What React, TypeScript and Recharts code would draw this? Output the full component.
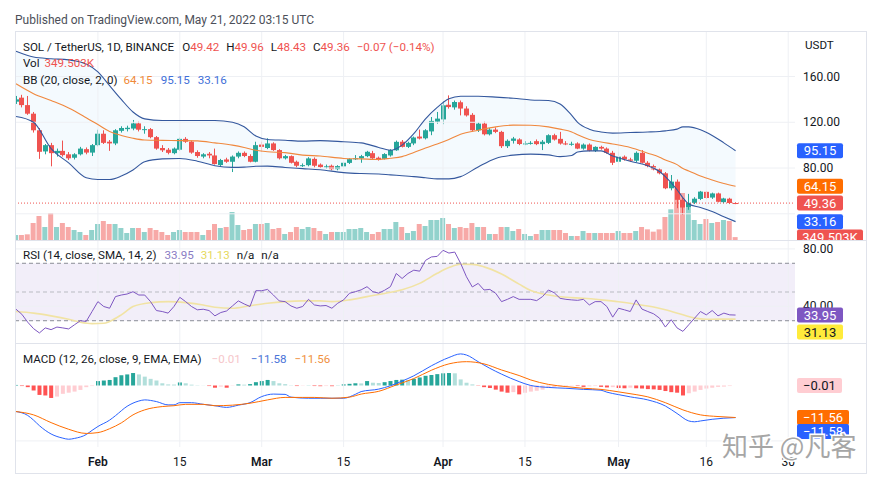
import React from 'react';
import { ComposedChart, Bar, Line, Area, XAxis, YAxis, ReferenceLine, ReferenceArea, Cell } from 'recharts';

// ---------------- data (day index 0 = 18 Jan 2022, daily candles) ----------------
const opens = [138,141.5,135,127.5,113,94.5,100,93,95,92, 89,92,96.5,93.5,100,110,103,101.5,112.5,114, 114.5,119,113.5,114,107,97.5,96,93,96,105.5, 103,94,90,92.5,91,82.6,87.5,85.5,90,93.3, 90.5,85.5,100.5,97.5,101.5,95.7,88.5,90.4,85.5,82, 82.5,88,83,80.8,82,79,81.5,84.5,88,88.5, 90.4,93,89,88,91,95.5,103,98.5,101.5,107.5, 106,112,120.5,122.5,135.3,133,137.5,132,126.5,113, 118.8,109.5,113.6,111.6,99.1,103.8,105,101,101.5,103.5, 100.9,102,108.7,105.5,101.5,101,101.5,97,100.5,95.1, 98.5,97,93.3,85.5,89.9,87.5,86.4,93.3,84.6,81.7, 78.8,75.4,62.3,68.1,52.2,45.5,49.6,53,59.2,54.2, 57.8,50.2,53.2,49.42];
const highs = [143,144,143,129,115,101,102,97,104,94, 93,98.5,98,101,113.5,113,104.5,114,116.5,117, 122,120.5,116.5,115,108,100,97.5,98,106.5,107, 104,95.5,93,94,97,88,89,91,94.5,94.5, 92,103,103,106,102.5,96.5,91.5,91,86.5,84, 89.5,89.3,84,83,83,82.5,85.5,88.5,91.3,91.5, 95,95,90,93,96.5,104,104.5,103,107.5,113.6, 114,124.6,129,138.5,143.5,139,139,134,128,120, 120.5,115,115.5,112.5,105,107.2,106,103.5,103.5,105, 104.5,109.5,110,111.6,103.5,103,102.5,101.5,101.5,99, 99.5,98,95,94.2,91,89,94.5,95.7,86,83, 80,76.5,73.9,70,54,57.4,54.5,60,60,58.5, 58.5,54,54,49.96];
const lows = [136,133,126.5,111,88,92,81.5,90,90,87, 87.5,91,92,90.5,99,101,95,100,111,112, 113,112,110,106,96,94,92,92,95,102, 92.5,89,88.5,88.5,83,81.5,84.5,76.5,88.5,89.5, 85,85,94,96.5,95,87.5,87.5,84,80.5,81, 81.5,80.5,80,79.5,78,78,80.5,83.5,87,84.6, 89.5,88,86.5,87.5,90,95,98,97.5,100,105, 105,108.7,118.8,118.3,131.9,131,126,125,112,111.5, 108.5,108.5,110.5,97.5,97.5,101.4,100,100,100.5,100, 95.7,101,104,100.5,100,99.5,96.5,96,94.5,94, 96,92.5,82.6,84,86.5,85.5,85,84,80.5,78, 74.5,61.5,60.5,44.9,39.1,43.5,48.5,52,53,53, 50,49.2,48.5,48.43];
const closes = [140,135,127.5,113,94.2,100,93,95,91.3,88.5, 92,97,93.5,100,110,102,101.5,113,115,115.2, 119,113.5,114,107,97,95.5,93.3,97,105.5,103, 93.5,90.5,92,91,83.5,87,85.5,90,93.3,90.5, 85.5,100,98.5,101.5,95.7,88.5,90.4,84.6,82,82.5, 88.4,82,80.8,81.5,79,81.7,84.6,87.8,88.5,90.4, 94.2,88.5,87,92.2,95.7,102.9,98.5,102,106.7,105.8, 113,121.2,123.2,134.8,133.3,137.7,132,126,113,118.8, 109.5,113.6,111.6,99.1,103.8,105.8,101,101.5,102,100.9, 103,108.7,104.9,101.4,100.9,101.2,97,100.5,95.1,98.5, 97,93.3,84.6,89.9,87.5,86.4,93.3,84.6,81.7,78.8, 75.4,62.3,68.1,52.2,45.5,49.6,53.2,59.4,53.8,57.8, 50.5,53.4,49.42,49.36];
// volume in thousands
const volumes = [600,600,680,2040,2880,1560,3240,1560,2040,1560, 1200,960,600,1200,1920,2280,1920,1920,1440,840, 1440,1440,960,1440,1200,960,600,960,1200,960, 960,960,600,1200,1920,1440,1560,3360,1800,1200, 1320,1920,1920,2040,1320,1440,720,960,1560,1320, 1560,1440,1080,720,960,960,960,1320,1320,1440, 960,720,960,1320,1320,2160,1560,840,1080,1920, 1680,2400,2400,2640,1920,1440,1560,1440,2040,1560, 1560,720,720,1560,1560,1080,1320,720,480,720, 1200,1200,1200,1200,840,480,480,1080,840,840, 840,840,840,1080,840,840,1080,1560,1280,1000, 1280,2760,3680,6200,5640,3840,2400,1920,2520,2040, 2160,2400,2280,349.503];

// Bollinger Bands (20, 2) read at sample days
const bbDays  = [0,3,6,9,12,14,16,18,20,22,25,28,31,34,37,39,41,43,46,49,52,56,59,62,64,66,68,70,72,74,76,79,82,85,88,91,93,95,96,98,100,102,105,108,110,111,113,114,115,117,119,121,123];
const bbUpper = [182,177,175.5,174.5,171,164,152,140,129,123,121.5,121.5,121.5,121.5,120,116,108,105,104.3,103.5,104,103,102,98,95.5,100,110,123,133,140.5,142.8,142.7,142,141,139.5,139,136,126,120,114,111.5,110.5,111,111.5,112,112.5,114,116,116,113.5,108.5,102,95.15];
const bbBasis = [153.6,145,139,132.5,124,118,112,108.5,106,104.5,104.2,104,103.7,102,100,98,95.5,94.2,93.5,91.3,90.5,88.4,88,87.5,88.5,90,93.5,97.5,101,105,109.5,113,116,117.5,117.4,116,114,111.5,109,105,102.8,101,98,93,89.5,87,83,79.5,77.5,73,69.5,66.5,64.15];
const bbLower = [125,120,97,84.5,71.5,70,70,73,78.3,85.5,88,88.4,86,82,80.6,80.8,81.5,81.7,80.5,79.5,78.5,76,75.2,74.8,74,73.3,72.5,71.5,70.5,70.5,72.5,81,88.4,91.3,92.2,91.5,90,91,94,95,95,90.5,86,82,77,72.5,61,54,48.5,45.5,42,37.5,33.16];

// RSI (14) daily and its SMA (14) at sample days
const rsiValues = [38,34.5,29,24.5,21.5,25,23.8,25.6,25,24.3, 27.2,30,29.5,36.4,43.3,39.9,38.7,46.8,47.9,48.6, 50.2,47.9,47.9,43.3,37.1,36.4,35.3,39.9,46.3,43.3, 39.9,37.6,38,37.1,33.4,35.7,36.8,40.3,43.8,41.7, 39.9,50.9,50.9,51.8,47.9,43.8,43.3,40.3,38.7,39.9, 44.9,41,40.3,40.6,38.7,42.2,44.5,49.1,50.2,51.5, 53.7,50.2,49.2,51.2,53.7,62.9,59.4,62.9,65.2,64.5, 72,74.4,74.8,79,77.1,77.8,70,60.6,53.5,56, 51.4,51.8,49.1,43.3,44.9,46.8,44.9,44.9,44.9,44, 46.8,51.4,49.5,45.6,44.9,44.5,44.2,44.9,41,43.3, 43.3,39.9,32.5,38.7,37.6,36.4,44.5,38.1,36.4,34.8, 31.8,25.6,30.7,25,22.6,27.2,31.8,36.4,34.1,37.1, 33.4,35.3,34.1,33.95];
const rsiMaDays = [0,3,6,9,11,13,15,16,18,20,23,26,29,32,34,37,40,43,46,49,52,54,57,60,63,66,69,72,74,76,78,80,83,86,88,91,94,97,100,103,106,109,111,114,116,118,120,123];
const rsiMaValues = [36.4,35.3,33.4,31,29,28,28.2,29.5,34.1,39.9,42.6,43.3,42.6,41,39.4,38.7,40.5,42.2,43.3,43.8,43.8,43.3,44.5,46.8,49,51.5,56,63,67,69.3,69.2,67.5,62.5,55.5,51,47.9,46.3,45.6,44.5,43.2,41.5,39.5,37.6,34.1,31.8,31,31.1,31.13];

// MACD (12, 26, 9)
const macdDays = [0,2,3,4,6,8,9,10,12,13,14,16,17,19,21,22,24,26,27,28,30,32,34,36,38,40,42,44,46,47,50,52,56,58,59,62,64,66,68,71,74,76,77,79,81,83,86,88,91,94,97,100,101,103,105,108,111,113,115,116,117,119,121,123];
const macdValues = [-9.4,-10.8,-12.5,-14.5,-17.5,-19,-19.4,-19.1,-17.7,-16.2,-14.8,-12.5,-10.9,-7.5,-5.6,-5.2,-5.8,-7,-7,-6.2,-6.2,-6.8,-7.3,-7.9,-7.1,-6.2,-4,-3.1,-3.2,-4.2,-4.6,-4.6,-4.6,-3.2,-2.2,-1.3,-0.1,1.6,3.5,7.1,10.1,11.4,11,8.6,6.2,4.1,1.4,0,-0.7,-1,-1.4,-1.7,-2.4,-3.3,-4.1,-5.2,-7.4,-10.1,-12.8,-13.1,-12.8,-12.2,-11.8,-11.58];
const signalDays = [0,3,6,9,12,14,16,18,20,22,25,27,29,32,34,37,40,43,46,49,51,54,57,59,62,65,68,71,74,77,80,83,86,88,91,94,97,100,103,106,108,111,114,117,120,123];
const signalValues = [-9.4,-10.6,-13.4,-15.8,-17.3,-17,-15.6,-13.5,-10.6,-8.8,-7.6,-7.3,-6.8,-6.8,-7.3,-7.1,-6.4,-5.2,-4.3,-4.3,-4.3,-4.6,-4.2,-3.1,-2.1,0.2,2.5,5.5,7.8,8.6,7.8,5.6,3.6,2,0.4,-0.4,-1,-1.4,-2.3,-3.3,-4.1,-6.2,-8.8,-10.6,-11.2,-11.56];
const histValues = [0.2,-0.2,-0.6,-1.8,-3.4,-3.6,-4.5,-4.0,-3.0,-2.6, -2.2,-1.6,-0.6,-0.2,1.6,1.8,2.0,3.0,3.7,4.0, 4.5,4.0,3.2,2.4,1.8,0.8,0.4,0.35,1.1,0.8, 0.3,0.1,0.05,-0.2,-0.8,-0.4,-0.8,-0.1,0.4,0.3, 0.5,1.2,1.6,2.0,1.6,0.8,0.5,0.1,-0.2,-0.1, 0.05,-0.2,-0.25,-0.2,-0.25,0.05,0.4,0.6,0.8,0.75, 1.6,1.0,0.9,1.2,1.6,2.0,2.1,2.0,2.4,2.9, 3.5,3.8,4.1,4.4,4.5,4.4,2.2,1.0,0.4,-0.1, -0.6,-0.9,-1.5,-2.2,-2.6,-2.4,-3.2,-2.6,-2.2,-1.9, -1.5,-0.9,-0.5,-0.3,-0.2,-0.1,-0.2,-0.5,-0.3,-0.2, -0.5,-0.7,-0.6,-0.9,-1.0,-0.8,-1.0,-1.1,-1.3,-1.4, -1.6,-2.0,-2.4,-2.6,-3.6,-2.8,-2.2,-1.6,-1.1,-0.8, -0.5,-0.4,-0.2,-0.01];

// time axis
const tickDays = [14, 28, 42, 56, 73, 87, 103, 118, 132];
const tickLabels = ['Feb', '15', 'Mar', '15', 'Apr', '15', 'May', '16', '30'];
const priceTicks = [160, 120, 80];
const priceGrid = [160, 120, 80, 40];
const rsiTicks = [80, 40];

// ---------------- derived tables ----------------
const candles = opens.map((o, i) => ({
  d: i, o, h: highs[i], l: lows[i], c: closes[i], v: volumes[i], rsi: rsiValues[i], hist: histValues[i],
}));
const bbData = bbDays.map((d, i) => ({ d, u: bbUpper[i], m: bbBasis[i], lo: bbLower[i] }));
const rsiMaData = rsiMaDays.map((d, i) => ({ d, ma: rsiMaValues[i] }));
const macdData = macdDays.map((d, i) => ({ d, macd: macdValues[i] }));
const signalData = signalDays.map((d, i) => ({ d, sig: signalValues[i] }));

// ---------------- style ----------------
const X_DOMAIN = [-0.171, 133.16];
const UP = '#26a69a';
const DOWN = '#ef5350';
const GRID = '#eef0f4';
const TEXT = '#131722';
const FONT = 'Roboto, "Noto Sans", sans-serif';
const MARGIN = { top: 0, right: 70, bottom: 0, left: 0 };

function CandleShape(props: any) {
  const { x, y, width, height, payload } = props;
  if (x == null || y == null) return null;
  const { o, h, l, c } = payload;
  const up = c >= o;
  const color = up ? UP : DOWN;
  const cx = Math.round(x + width / 2);
  const k = h - l > 0 ? height / (h - l) : 0;
  const top = y + (h - Math.max(o, c)) * k;
  const bot = y + (h - Math.min(o, c)) * k;
  return (
    <g>
      <line x1={cx + 0.5} x2={cx + 0.5} y1={y} y2={y + height} stroke={color} strokeWidth={1} />
      <rect x={cx - 2} y={top} width={5} height={Math.max(1, bot - top)} fill={color} />
    </g>
  );
}

function AxisText(props: any) {
  const { viewBox, text } = props;
  if (!viewBox) return null;
  return (
    <text x={viewBox.x + viewBox.width + 8} y={viewBox.y} dy={4} fontSize={12} fontFamily={FONT} fill={TEXT}>
      {text}
    </text>
  );
}

function Badge(props: any) {
  const { viewBox, text, bg, color, w, dy } = props;
  if (!viewBox) return null;
  const x = viewBox.x + viewBox.width + 2;
  const y = viewBox.y + (dy || 0);
  return (
    <g>
      <rect x={x} y={y - 7.5} width={w || 46} height={15} rx={2} fill={bg} />
      <text x={x + (w || 46) / 2} y={y} dy={4.5} textAnchor="middle" fontSize={13} fontFamily={FONT} fill={color || '#ffffff'}>
        {text}
      </text>
    </g>
  );
}

function TimeTick(props: any) {
  const { x, y, payload } = props;
  const i = tickDays.indexOf(payload.value);
  const label = i >= 0 ? tickLabels[i] : '';
  const month = isNaN(Number(label));
  return (
    <text x={x} y={y} dy={19} textAnchor="middle" fontSize={12} fontFamily={FONT} fontWeight={month ? 600 : 400} fill={TEXT}>
      {label}
    </text>
  );
}

function histColor(i: number) {
  const v = histValues[i];
  const p = i > 0 ? histValues[i - 1] : v;
  if (v >= 0) return v >= p ? '#26a69a' : '#b2dfdb';
  return v < p ? '#ff5252' : '#ffcdd2';
}

function MainPane() {
  return (
    <ComposedChart width={850} height={208} data={candles} margin={MARGIN}>
      <XAxis dataKey="d" type="number" domain={X_DOMAIN} allowDataOverflow hide />
      <XAxis xAxisId="xv" dataKey="d" type="number" domain={X_DOMAIN} allowDataOverflow hide />
      <YAxis type="number" domain={[17.1, 198.9]} allowDataOverflow hide />
      <YAxis yAxisId="v" type="number" domain={[0, 24960]} allowDataOverflow hide />
      {tickDays.map((d) => (
        <ReferenceLine key={'gx' + d} x={d} stroke={GRID} />
      ))}
      {priceGrid.map((p) => (
        <ReferenceLine key={'gy' + p} y={p} stroke={GRID}
          label={priceTicks.indexOf(p) >= 0 ? <AxisText text={p.toFixed(2)} /> : undefined} />
      ))}
      <Area data={bbData} dataKey={(e: any) => [e.lo, e.u]} type="monotone" stroke="none" fill="#2196f3" fillOpacity={0.05} isAnimationActive={false} />
      <Bar xAxisId="xv" yAxisId="v" dataKey="v" barSize={5} isAnimationActive={false}>
        {candles.map((e, i) => (
          <Cell key={'v' + i} fill={e.c >= e.o ? 'rgba(38,166,154,0.5)' : 'rgba(239,83,80,0.5)'} />
        ))}
      </Bar>
      <Line data={bbData} dataKey="u" type="monotone" stroke="#34589e" strokeWidth={1.1} dot={false} isAnimationActive={false} />
      <Line data={bbData} dataKey="lo" type="monotone" stroke="#34589e" strokeWidth={1.1} dot={false} isAnimationActive={false} />
      <Line data={bbData} dataKey="m" type="monotone" stroke="#f0883e" strokeWidth={1.1} dot={false} isAnimationActive={false} />
      <Bar dataKey={(e: any) => [e.l, e.h]} barSize={5} shape={<CandleShape />} isAnimationActive={false} />
      <ReferenceLine y={49.36} stroke={DOWN} strokeDasharray="1 2"
        label={<Badge text="49.36" bg={DOWN} />} />
      <ReferenceLine y={95.15} stroke="none" label={<Badge text="95.15" bg="#2962ff" />} />
      <ReferenceLine y={64.15} stroke="none" label={<Badge text="64.15" bg="#ff6d00" />} />
      <ReferenceLine y={33.16} stroke="none" label={<Badge text="33.16" bg="#2962ff" />} />
      <ReferenceLine xAxisId="xv" yAxisId="v" y={349.503} stroke="none" label={<Badge text="349.503K" bg={DOWN} w={66} />} />
    </ComposedChart>
  );
}

function RsiPane() {
  return (
    <ComposedChart width={850} height={103} data={candles} margin={MARGIN}>
      <XAxis dataKey="d" type="number" domain={X_DOMAIN} allowDataOverflow hide />
      <YAxis type="number" domain={[14.5, 86.2]} allowDataOverflow hide />
      {tickDays.map((d) => (
        <ReferenceLine key={'gx' + d} x={d} stroke={GRID} />
      ))}
      <ReferenceArea y1={30} y2={70} fill="#7e57c2" fillOpacity={0.1} stroke="none" />
      {rsiTicks.map((p) => (
        <ReferenceLine key={'gy' + p} y={p} stroke={GRID} label={<AxisText text={p.toFixed(2)} />} />
      ))}
      <ReferenceLine y={70} stroke="#8a8d96" strokeDasharray="4 3" />
      <ReferenceLine y={50} stroke="#b9bbc2" strokeDasharray="4 3" />
      <ReferenceLine y={30} stroke="#8a8d96" strokeDasharray="4 3" />
      <Line data={rsiMaData} dataKey="ma" type="monotone" stroke="#f1e3a4" strokeWidth={1.6} dot={false} isAnimationActive={false} />
      <Line dataKey="rsi" type="linear" stroke="#7e57c2" strokeWidth={1} dot={false} isAnimationActive={false} />
      <ReferenceLine y={33.95} stroke="none" label={<Badge text="33.95" bg="#7e57c2" />} />
      <ReferenceLine y={31.13} stroke="none" label={<Badge text="31.13" bg="#ffeb3b" color={TEXT} dy={13} />} />
    </ComposedChart>
  );
}

function MacdPane() {
  return (
    <ComposedChart width={850} height={130} data={candles} margin={MARGIN}>
      <XAxis dataKey="d" type="number" domain={X_DOMAIN} allowDataOverflow ticks={tickDays} interval={0}
        height={26} tickLine={false} axisLine={false} tickSize={0} tickMargin={0} tick={<TimeTick />} />
      <YAxis type="number" domain={[-22.2, 15.34]} allowDataOverflow hide />
      {tickDays.map((d) => (
        <ReferenceLine key={'gx' + d} x={d} stroke={GRID} />
      ))}
      <ReferenceLine y={-20} stroke={GRID} />
      <Bar dataKey="hist" barSize={4} isAnimationActive={false}>
        {candles.map((e, i) => (
          <Cell key={'h' + i} fill={histColor(i)} />
        ))}
      </Bar>
      <Line data={macdData} dataKey="macd" type="monotone" stroke="#2962ff" strokeWidth={1} dot={false} isAnimationActive={false} />
      <Line data={signalData} dataKey="sig" type="monotone" stroke="#ff6d00" strokeWidth={1} dot={false} isAnimationActive={false} />
      <ReferenceLine y={-0.01} stroke="none" label={<Badge text="−0.01" bg="#ffcdd2" color={TEXT} w={45} />} />
      <ReferenceLine y={-11.56} stroke="none" label={<Badge text="−11.56" bg="#ff6d00" w={52} />} />
      <ReferenceLine y={-11.58} stroke="none" label={<Badge text="−11.58" bg="#2962ff" w={52} dy={14} />} />
    </ComposedChart>
  );
}

function Overlay() {
  const t = { fontFamily: FONT, fontSize: 11.6, fill: TEXT } as any;
  return (
    <svg width={884} height={484} style={{ position: 'absolute', left: 0, top: 0, pointerEvents: 'none' }}>
      <text x={15} y={23.5} fontFamily={FONT} fontSize={12} fill="#4c4f59">Published on TradingView.com, May 21, 2022 03:15 UTC</text>
      <rect x={15.5} y={31.5} width={851} height={442} fill="none" stroke="#e0e3eb" />
      <line x1={15} x2={866} y1={240.5} y2={240.5} stroke="#e0e3eb" />
      <line x1={15} x2={866} y1={343.5} y2={343.5} stroke="#e0e3eb" />
      <text x={23} y={50.5} {...t}>
        {'SOL / TetherUS, 1D, BINANCE'}
        <tspan dx={8}>O</tspan><tspan fill={DOWN}>49.42</tspan>
        <tspan dx={7}>H</tspan><tspan fill={DOWN}>49.96</tspan>
        <tspan dx={7}>L</tspan><tspan fill={DOWN}>48.43</tspan>
        <tspan dx={7}>C</tspan><tspan fill={DOWN}>49.36</tspan>
        <tspan dx={7} fill={DOWN}>−0.07 (−0.14%)</tspan>
      </text>
      <text x={23} y={67} {...t}>
        {'Vol'}<tspan dx={5} fill={DOWN}>349.503K</tspan>
      </text>
      <text x={23} y={83.5} {...t}>
        {'BB (20, close, 2, 0)'}
        <tspan dx={6} fill="#f08a3a">64.15</tspan>
        <tspan dx={8} fill="#3f6fd8">95.15</tspan>
        <tspan dx={8} fill="#3f6fd8">33.16</tspan>
      </text>
      <text x={805} y={48.5} {...t}>USDT</text>
      <text x={23} y={259} {...t}>
        {'RSI (14, close, SMA, 14, 2)'}
        <tspan dx={8} fill="#8a7cc4">33.95</tspan>
        <tspan dx={7} fill="#e6d95c">31.13</tspan>
        <tspan dx={7}>n/a</tspan>
        <tspan dx={7}>n/a</tspan>
      </text>
      <text x={23} y={363} {...t}>
        {'MACD (12, 26, close, 9, EMA, EMA)'}
        <tspan dx={10} fill="#f6c6ca">−0.01</tspan>
        <tspan dx={10} fill="#4a74d8">−11.58</tspan>
        <tspan dx={8} fill="#f0913f">−11.56</tspan>
      </text>
      <text x={722} y={456} fontFamily='"Noto Sans CJK SC", sans-serif' fontSize={26} fill="#a6a6a6"
        stroke="#ffffff" strokeWidth={3} style={{ paintOrder: 'stroke' } as any}>知乎 @凡客</text>
    </svg>
  );
}

export default function App() {
  return (
    <div style={{ position: 'absolute', left: 0, top: 0, width: 884, height: 484, background: '#ffffff', overflow: 'hidden' }}>
      <div style={{ position: 'absolute', left: 15, top: 32 }}><MainPane /></div>
      <div style={{ position: 'absolute', left: 15, top: 240 }}><RsiPane /></div>
      <div style={{ position: 'absolute', left: 15, top: 343 }}><MacdPane /></div>
      <Overlay />
    </div>
  );
}
